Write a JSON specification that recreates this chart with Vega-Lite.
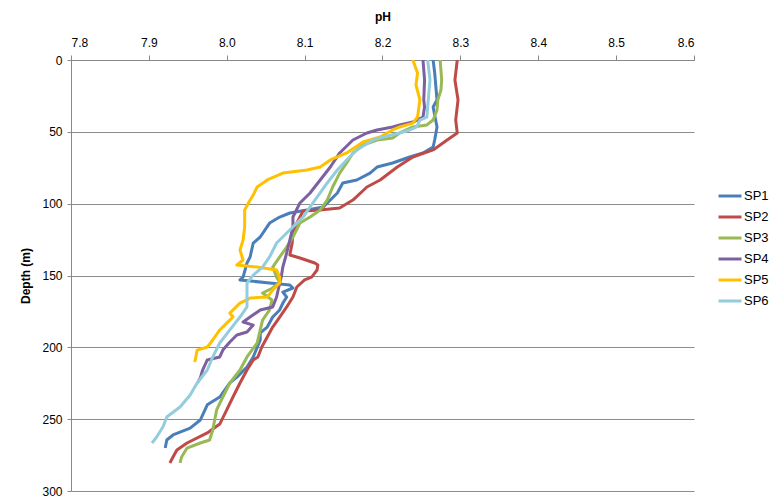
{
  "$schema": "https://vega.github.io/schema/vega-lite/v6.json",
  "width": 623,
  "height": 431,
  "autosize": {"type": "none"},
  "padding": {"left": 71, "top": 60, "right": 75, "bottom": 12},
  "background": "white",
  "config": {
    "font": "Liberation Sans",
    "view": {"stroke": null}
  },
  "data": {
    "values": [
      {"s":"SP1","ph":8.265,"depth":0},{"s":"SP1","ph":8.267,"depth":9},{"s":"SP1","ph":8.270,"depth":27.8},{"s":"SP1","ph":8.265,"depth":32.7},{"s":"SP1","ph":8.270,"depth":46.6},{"s":"SP1","ph":8.267,"depth":55.7},{"s":"SP1","ph":8.265,"depth":60.6},{"s":"SP1","ph":8.252,"depth":64.7},{"s":"SP1","ph":8.235,"depth":67.5},{"s":"SP1","ph":8.213,"depth":71.7},{"s":"SP1","ph":8.193,"depth":74.5},{"s":"SP1","ph":8.184,"depth":78.7},{"s":"SP1","ph":8.167,"depth":83.5},{"s":"SP1","ph":8.149,"depth":85.6},{"s":"SP1","ph":8.142,"depth":92.6},{"s":"SP1","ph":8.124,"depth":102.3},{"s":"SP1","ph":8.103,"depth":104.4},{"s":"SP1","ph":8.081,"depth":106.5},{"s":"SP1","ph":8.068,"depth":109.3},{"s":"SP1","ph":8.055,"depth":113.5},{"s":"SP1","ph":8.043,"depth":123.2},{"s":"SP1","ph":8.034,"depth":127.4},{"s":"SP1","ph":8.030,"depth":137.1},{"s":"SP1","ph":8.026,"depth":141.3},{"s":"SP1","ph":8.021,"depth":151.1},{"s":"SP1","ph":8.017,"depth":153.1},{"s":"SP1","ph":8.055,"depth":155.2},{"s":"SP1","ph":8.081,"depth":156.6},{"s":"SP1","ph":8.085,"depth":158.7},{"s":"SP1","ph":8.072,"depth":161.5},{"s":"SP1","ph":8.077,"depth":165.0},{"s":"SP1","ph":8.072,"depth":169.2},{"s":"SP1","ph":8.068,"depth":174.0},{"s":"SP1","ph":8.059,"depth":178.9},{"s":"SP1","ph":8.052,"depth":185.9},{"s":"SP1","ph":8.043,"depth":190.0},{"s":"SP1","ph":8.043,"depth":194.9},{"s":"SP1","ph":8.034,"depth":206.7},{"s":"SP1","ph":8.026,"depth":213.7},{"s":"SP1","ph":8.013,"depth":220.7},{"s":"SP1","ph":8.004,"depth":224.8},{"s":"SP1","ph":7.991,"depth":234.6},{"s":"SP1","ph":7.975,"depth":240.0},{"s":"SP1","ph":7.966,"depth":250.6},{"s":"SP1","ph":7.953,"depth":256.2},{"s":"SP1","ph":7.931,"depth":261.0},{"s":"SP1","ph":7.923,"depth":264.5},{"s":"SP1","ph":7.921,"depth":270.1},
      {"s":"SP2","ph":8.296,"depth":0},{"s":"SP2","ph":8.293,"depth":13.9},{"s":"SP2","ph":8.297,"depth":27.8},{"s":"SP2","ph":8.294,"depth":41.8},{"s":"SP2","ph":8.296,"depth":50.8},{"s":"SP2","ph":8.283,"depth":55.7},{"s":"SP2","ph":8.265,"depth":62.6},{"s":"SP2","ph":8.239,"depth":67.5},{"s":"SP2","ph":8.219,"depth":74.5},{"s":"SP2","ph":8.197,"depth":83.5},{"s":"SP2","ph":8.180,"depth":88.4},{"s":"SP2","ph":8.162,"depth":97.5},{"s":"SP2","ph":8.145,"depth":103.0},{"s":"SP2","ph":8.120,"depth":104.4},{"s":"SP2","ph":8.098,"depth":105.1},{"s":"SP2","ph":8.090,"depth":113.5},{"s":"SP2","ph":8.085,"depth":120.4},{"s":"SP2","ph":8.084,"depth":127.4},{"s":"SP2","ph":8.081,"depth":135.7},{"s":"SP2","ph":8.094,"depth":137.8},{"s":"SP2","ph":8.113,"depth":141.3},{"s":"SP2","ph":8.117,"depth":142.7},{"s":"SP2","ph":8.116,"depth":146.2},{"s":"SP2","ph":8.109,"depth":151.1},{"s":"SP2","ph":8.100,"depth":153.1},{"s":"SP2","ph":8.090,"depth":158.0},{"s":"SP2","ph":8.085,"depth":165.0},{"s":"SP2","ph":8.077,"depth":171.9},{"s":"SP2","ph":8.068,"depth":178.9},{"s":"SP2","ph":8.059,"depth":185.9},{"s":"SP2","ph":8.052,"depth":192.8},{"s":"SP2","ph":8.045,"depth":199.8},{"s":"SP2","ph":8.040,"depth":206.7},{"s":"SP2","ph":8.034,"depth":208.8},{"s":"SP2","ph":8.026,"depth":215.8},{"s":"SP2","ph":8.017,"depth":224.8},{"s":"SP2","ph":8.008,"depth":234.6},{"s":"SP2","ph":8.000,"depth":243.6},{"s":"SP2","ph":7.991,"depth":253.4},{"s":"SP2","ph":7.975,"depth":259.6},{"s":"SP2","ph":7.949,"depth":266.6},{"s":"SP2","ph":7.936,"depth":271.5},{"s":"SP2","ph":7.931,"depth":276.4},{"s":"SP2","ph":7.927,"depth":280.5},
      {"s":"SP3","ph":8.274,"depth":0},{"s":"SP3","ph":8.276,"depth":13.9},{"s":"SP3","ph":8.275,"depth":20.9},{"s":"SP3","ph":8.271,"depth":27.8},{"s":"SP3","ph":8.270,"depth":34.8},{"s":"SP3","ph":8.265,"depth":41.8},{"s":"SP3","ph":8.257,"depth":45.2},{"s":"SP3","ph":8.239,"depth":46.6},{"s":"SP3","ph":8.222,"depth":50.8},{"s":"SP3","ph":8.213,"depth":54.3},{"s":"SP3","ph":8.193,"depth":55.7},{"s":"SP3","ph":8.175,"depth":59.2},{"s":"SP3","ph":8.162,"depth":64.7},{"s":"SP3","ph":8.154,"depth":71.7},{"s":"SP3","ph":8.145,"depth":78.7},{"s":"SP3","ph":8.136,"depth":88.4},{"s":"SP3","ph":8.129,"depth":97.5},{"s":"SP3","ph":8.120,"depth":104.4},{"s":"SP3","ph":8.107,"depth":109.3},{"s":"SP3","ph":8.094,"depth":113.5},{"s":"SP3","ph":8.085,"depth":123.2},{"s":"SP3","ph":8.077,"depth":130.2},{"s":"SP3","ph":8.068,"depth":137.1},{"s":"SP3","ph":8.059,"depth":144.1},{"s":"SP3","ph":8.064,"depth":151.1},{"s":"SP3","ph":8.068,"depth":154.5},{"s":"SP3","ph":8.059,"depth":158.7},{"s":"SP3","ph":8.046,"depth":162.2},{"s":"SP3","ph":8.058,"depth":167.1},{"s":"SP3","ph":8.055,"depth":174.0},{"s":"SP3","ph":8.046,"depth":181.0},{"s":"SP3","ph":8.043,"depth":187.9},{"s":"SP3","ph":8.039,"depth":197.0},{"s":"SP3","ph":8.026,"depth":206.7},{"s":"SP3","ph":8.017,"depth":215.8},{"s":"SP3","ph":8.004,"depth":224.8},{"s":"SP3","ph":7.995,"depth":234.6},{"s":"SP3","ph":7.987,"depth":243.6},{"s":"SP3","ph":7.982,"depth":257.6},{"s":"SP3","ph":7.978,"depth":264.5},{"s":"SP3","ph":7.966,"depth":266.6},{"s":"SP3","ph":7.949,"depth":270.1},{"s":"SP3","ph":7.942,"depth":276.4},{"s":"SP3","ph":7.940,"depth":280.5},
      {"s":"SP4","ph":8.252,"depth":0},{"s":"SP4","ph":8.254,"depth":13.9},{"s":"SP4","ph":8.253,"depth":27.8},{"s":"SP4","ph":8.254,"depth":32.7},{"s":"SP4","ph":8.252,"depth":39.7},{"s":"SP4","ph":8.239,"depth":43.2},{"s":"SP4","ph":8.222,"depth":45.2},{"s":"SP4","ph":8.213,"depth":46.6},{"s":"SP4","ph":8.193,"depth":48.7},{"s":"SP4","ph":8.180,"depth":50.8},{"s":"SP4","ph":8.162,"depth":55.7},{"s":"SP4","ph":8.145,"depth":64.7},{"s":"SP4","ph":8.133,"depth":74.5},{"s":"SP4","ph":8.120,"depth":83.5},{"s":"SP4","ph":8.107,"depth":92.6},{"s":"SP4","ph":8.094,"depth":99.5},{"s":"SP4","ph":8.085,"depth":109.3},{"s":"SP4","ph":8.085,"depth":116.2},{"s":"SP4","ph":8.081,"depth":125.3},{"s":"SP4","ph":8.077,"depth":134.3},{"s":"SP4","ph":8.072,"depth":144.1},{"s":"SP4","ph":8.070,"depth":151.1},{"s":"SP4","ph":8.068,"depth":155.2},{"s":"SP4","ph":8.064,"depth":165.0},{"s":"SP4","ph":8.059,"depth":171.9},{"s":"SP4","ph":8.043,"depth":174.0},{"s":"SP4","ph":8.030,"depth":178.9},{"s":"SP4","ph":8.021,"depth":182.4},{"s":"SP4","ph":8.034,"depth":184.5},{"s":"SP4","ph":8.026,"depth":189.3},{"s":"SP4","ph":8.013,"depth":191.4},{"s":"SP4","ph":8.004,"depth":196.3},{"s":"SP4","ph":7.995,"depth":201.9},{"s":"SP4","ph":7.991,"depth":206.7},{"s":"SP4","ph":7.975,"depth":208.8},{"s":"SP4","ph":7.969,"depth":215.8},{"s":"SP4","ph":7.966,"depth":221.4},{"s":"SP4","ph":7.963,"depth":224.1},
      {"s":"SP5","ph":8.239,"depth":0},{"s":"SP5","ph":8.245,"depth":9.0},{"s":"SP5","ph":8.243,"depth":17.4},{"s":"SP5","ph":8.248,"depth":27.8},{"s":"SP5","ph":8.245,"depth":39.7},{"s":"SP5","ph":8.239,"depth":43.9},{"s":"SP5","ph":8.222,"depth":46.6},{"s":"SP5","ph":8.213,"depth":48.7},{"s":"SP5","ph":8.206,"depth":50.8},{"s":"SP5","ph":8.197,"depth":53.6},{"s":"SP5","ph":8.175,"depth":57.1},{"s":"SP5","ph":8.154,"depth":64.7},{"s":"SP5","ph":8.133,"depth":69.6},{"s":"SP5","ph":8.120,"depth":74.5},{"s":"SP5","ph":8.103,"depth":76.6},{"s":"SP5","ph":8.072,"depth":78.7},{"s":"SP5","ph":8.052,"depth":83.5},{"s":"SP5","ph":8.039,"depth":88.4},{"s":"SP5","ph":8.034,"depth":94.0},{"s":"SP5","ph":8.030,"depth":97.5},{"s":"SP5","ph":8.023,"depth":104.4},{"s":"SP5","ph":8.023,"depth":116.2},{"s":"SP5","ph":8.021,"depth":125.3},{"s":"SP5","ph":8.017,"depth":132.3},{"s":"SP5","ph":8.021,"depth":139.2},{"s":"SP5","ph":8.013,"depth":142.7},{"s":"SP5","ph":8.039,"depth":144.1},{"s":"SP5","ph":8.064,"depth":146.2},{"s":"SP5","ph":8.068,"depth":151.1},{"s":"SP5","ph":8.068,"depth":155.2},{"s":"SP5","ph":8.059,"depth":160.1},{"s":"SP5","ph":8.052,"depth":165.0},{"s":"SP5","ph":8.030,"depth":165.7},{"s":"SP5","ph":8.017,"depth":169.2},{"s":"SP5","ph":8.008,"depth":174.0},{"s":"SP5","ph":8.004,"depth":176.1},{"s":"SP5","ph":8.008,"depth":178.9},{"s":"SP5","ph":8.000,"depth":183.1},{"s":"SP5","ph":7.991,"depth":187.9},{"s":"SP5","ph":7.982,"depth":194.9},{"s":"SP5","ph":7.975,"depth":199.8},{"s":"SP5","ph":7.962,"depth":201.9},{"s":"SP5","ph":7.959,"depth":210.2},
      {"s":"SP6","ph":8.258,"depth":0},{"s":"SP6","ph":8.261,"depth":13.9},{"s":"SP6","ph":8.258,"depth":32.7},{"s":"SP6","ph":8.257,"depth":39.7},{"s":"SP6","ph":8.248,"depth":41.8},{"s":"SP6","ph":8.244,"depth":46.6},{"s":"SP6","ph":8.235,"depth":48.7},{"s":"SP6","ph":8.222,"depth":50.8},{"s":"SP6","ph":8.201,"depth":53.6},{"s":"SP6","ph":8.188,"depth":55.7},{"s":"SP6","ph":8.167,"depth":62.6},{"s":"SP6","ph":8.154,"depth":69.6},{"s":"SP6","ph":8.142,"depth":76.6},{"s":"SP6","ph":8.129,"depth":85.6},{"s":"SP6","ph":8.116,"depth":95.4},{"s":"SP6","ph":8.107,"depth":102.3},{"s":"SP6","ph":8.098,"depth":109.3},{"s":"SP6","ph":8.090,"depth":113.5},{"s":"SP6","ph":8.077,"depth":120.4},{"s":"SP6","ph":8.068,"depth":125.3},{"s":"SP6","ph":8.064,"depth":127.4},{"s":"SP6","ph":8.055,"depth":137.1},{"s":"SP6","ph":8.046,"depth":144.1},{"s":"SP6","ph":8.034,"depth":149.7},{"s":"SP6","ph":8.026,"depth":155.2},{"s":"SP6","ph":8.026,"depth":165.0},{"s":"SP6","ph":8.026,"depth":171.9},{"s":"SP6","ph":8.017,"depth":178.9},{"s":"SP6","ph":8.004,"depth":187.9},{"s":"SP6","ph":7.991,"depth":197.0},{"s":"SP6","ph":7.982,"depth":206.7},{"s":"SP6","ph":7.975,"depth":215.8},{"s":"SP6","ph":7.962,"depth":224.8},{"s":"SP6","ph":7.953,"depth":233.2},{"s":"SP6","ph":7.940,"depth":241.5},{"s":"SP6","ph":7.923,"depth":248.5},{"s":"SP6","ph":7.918,"depth":255.5},{"s":"SP6","ph":7.910,"depth":262.4},{"s":"SP6","ph":7.904,"depth":266.6}
    ]
  },
  "mark": {"type": "line", "strokeWidth": 3, "strokeJoin": "round", "clip": true},
  "encoding": {
    "x": {
      "field": "ph", "type": "quantitative",
      "scale": {"domain": [7.8, 8.6], "nice": false, "zero": false},
      "axis": {
        "orient": "top", "title": "pH", "values": [7.8, 7.9, 8.0, 8.1, 8.2, 8.3, 8.4, 8.5, 8.6],
        "grid": false, "domainColor": "#888888", "tickColor": "#888888", "tickSize": 5,
        "labelFontSize": 12, "labelColor": "#000000", "labelPadding": 6,
        "titleFontSize": 12, "titleFontWeight": "bold", "titleColor": "#000000", "titlePadding": 13
      }
    },
    "y": {
      "field": "depth", "type": "quantitative",
      "scale": {"domain": [0, 300], "reverse": true, "nice": false},
      "axis": {
        "title": "Depth (m)", "values": [0, 50, 100, 150, 200, 250, 300],
        "grid": true, "gridColor": "#8c8c8c", "gridWidth": 1,
        "domainColor": "#888888", "tickColor": "#888888", "tickSize": 4,
        "labelFontSize": 12, "labelColor": "#000000", "labelPadding": 5,
        "titleFontSize": 12, "titleFontWeight": "bold", "titleColor": "#000000", "titlePadding": 9
      }
    },
    "color": {
      "field": "s", "type": "nominal",
      "scale": {
        "domain": ["SP1", "SP2", "SP3", "SP4", "SP5", "SP6"],
        "range": ["#4A7EBB", "#BE4B48", "#98B954", "#7D60A0", "#FFC000", "#93CDDD"]
      },
      "legend": {
        "title": null, "orient": "none", "legendX": 646, "legendY": 123,
        "symbolType": "stroke", "symbolStrokeWidth": 3, "symbolSize": 529,
        "labelFontSize": 13, "labelColor": "#000000", "labelOffset": 1, "rowPadding": 1
      }
    },
    "order": {"field": "depth", "type": "quantitative"}
  }
}
